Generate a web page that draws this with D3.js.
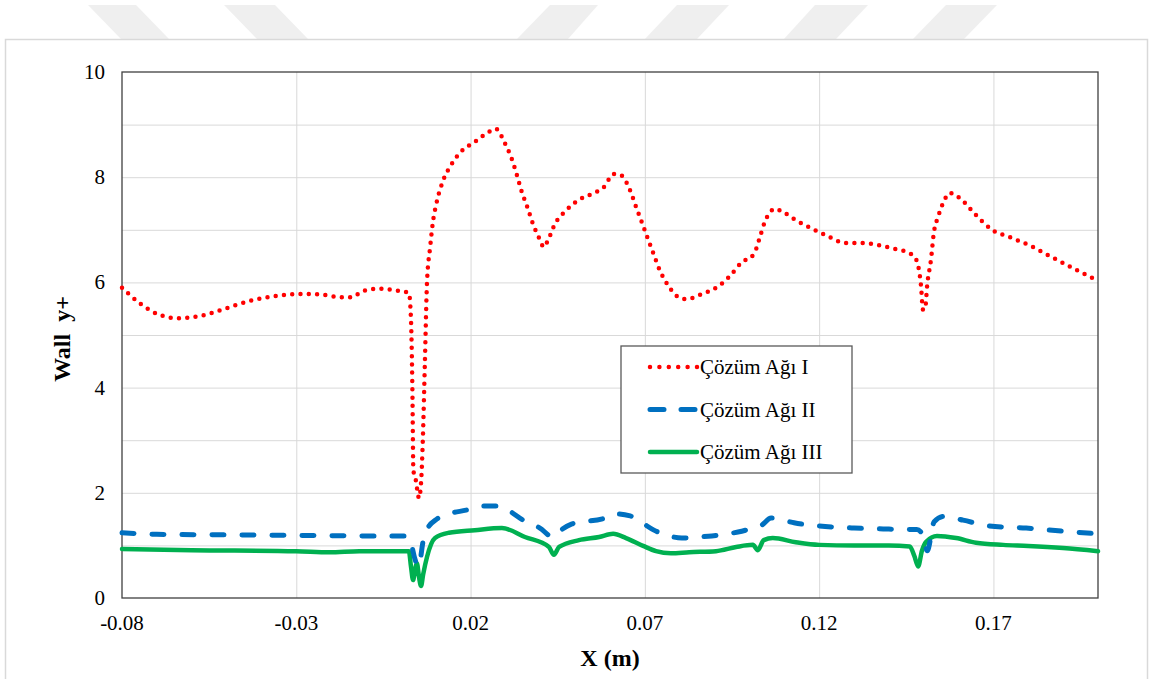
<!DOCTYPE html>
<html lang="tr">

<head>
  <meta charset="UTF-8">
  <title>Wall y+</title>
  <script src="https://d3js.org/d3.v7.min.js"></script>
  <style>
    body {
      margin: 0;
      background: #fff;
    }
  </style>
</head>

<body>
  <svg width="1150" height="679"></svg>

  <script>
    // x positions (m) and Wall y+ values for each mesh
    const xI = [-0.080, -0.0748, -0.0691, -0.0639, -0.0576, -0.0505, -0.0433, -0.0361, -0.0289, -0.0232,
      -0.0175, -0.0140, -0.0111, -0.0060, -0.0017, 0.0023, 0.0029, 0.0033, 0.0036, 0.0040,
      0.0046, 0.0052, 0.0058, 0.0063, 0.0069, 0.0075, 0.0084, 0.0092, 0.0101, 0.0121,
      0.0144, 0.0172, 0.0212, 0.0252, 0.0272, 0.0298, 0.0318, 0.0333, 0.0347, 0.0364,
      0.0379, 0.0399, 0.0410, 0.0422, 0.0442, 0.0473, 0.0511, 0.0554, 0.0582, 0.0611,
      0.0631, 0.0657, 0.0674, 0.0691, 0.0708, 0.0725, 0.0742, 0.0766, 0.0792, 0.0818,
      0.0864, 0.0907, 0.0944, 0.0976, 0.1013, 0.1030, 0.1044, 0.1056, 0.1073, 0.1096,
      0.1136, 0.1180, 0.1225, 0.1274, 0.1323, 0.1369, 0.1415, 0.1463, 0.1478, 0.1492,
      0.1498, 0.1504, 0.1510, 0.1521, 0.1529, 0.1541, 0.1555, 0.1575, 0.1604, 0.1647,
      0.1696, 0.1747, 0.1805, 0.1862, 0.1934, 0.2000];
    const yI = [5.90, 5.60, 5.38, 5.32, 5.36, 5.50, 5.65, 5.74, 5.78, 5.77,
      5.72, 5.72, 5.83, 5.88, 5.85, 5.80, 5.30, 4.00, 2.40, 2.35,
      2.10, 1.90, 2.20, 3.00, 4.50, 6.00, 6.67, 7.15, 7.47, 7.93,
      8.23, 8.48, 8.67, 8.86, 8.92, 8.65, 8.35, 8.04, 7.72, 7.41,
      7.11, 6.81, 6.67, 6.80, 7.11, 7.36, 7.57, 7.70, 7.81, 8.06,
      8.04, 7.76, 7.45, 7.15, 6.84, 6.54, 6.24, 5.95, 5.74, 5.68,
      5.78, 5.91, 6.12, 6.37, 6.54, 6.86, 7.15, 7.30, 7.40, 7.34,
      7.17, 7.02, 6.88, 6.75, 6.75, 6.71, 6.64, 6.54, 6.44, 5.95,
      5.48, 5.50, 5.95, 6.44, 6.94, 7.24, 7.50, 7.70, 7.60, 7.30,
      7.00, 6.86, 6.70, 6.50, 6.25, 6.03];

    const xII = [-0.080, -0.070, -0.050, -0.030, -0.010, 0.0017, 0.0029, 0.0040, 0.0049, 0.0055,
      0.0063, 0.0075, 0.0103, 0.0138, 0.0187, 0.0236, 0.0276, 0.0299, 0.0351, 0.0399,
      0.0436, 0.0448, 0.0491, 0.0586, 0.0612, 0.0658, 0.0692, 0.0726, 0.0760, 0.0806,
      0.0852, 0.0892, 0.0938, 0.0978, 0.1010, 0.1036, 0.1062, 0.1108, 0.1128, 0.1200,
      0.1300, 0.1400, 0.1480, 0.1498, 0.1510, 0.1530, 0.1558, 0.1613, 0.1688, 0.1794,
      0.1900, 0.2000];
    const yII = [1.24, 1.21, 1.20, 1.19, 1.18, 1.18, 1.05, 0.75, 0.60, 0.70,
      1.05, 1.30, 1.50, 1.60, 1.67, 1.75, 1.75, 1.70, 1.48, 1.33,
      1.16, 1.23, 1.41, 1.52, 1.60, 1.56, 1.43, 1.29, 1.20, 1.14,
      1.16, 1.18, 1.22, 1.27, 1.33, 1.39, 1.52, 1.46, 1.43, 1.37,
      1.33, 1.31, 1.30, 1.20, 0.90, 1.45, 1.55, 1.48, 1.37, 1.33,
      1.27, 1.22];

    const xIII = [-0.080, -0.060, -0.030, -0.0205, -0.0119, 0.0000, 0.0023, 0.0029, 0.0035, 0.0041,
      0.0046, 0.0052, 0.0058, 0.0064, 0.0075, 0.0098, 0.0138, 0.0212, 0.0290, 0.0356,
      0.0425, 0.0439, 0.0454, 0.0511, 0.0569, 0.0609, 0.0646, 0.0695, 0.0732, 0.0775,
      0.0827, 0.0904, 0.0962, 0.1010, 0.1024, 0.1041, 0.1067, 0.1133, 0.1200, 0.1300,
      0.1400, 0.1460, 0.1473, 0.1484, 0.1495, 0.1507, 0.1538, 0.1593, 0.1650, 0.1728,
      0.1800, 0.1900, 0.2000];
    const yIII = [0.93, 0.91, 0.89, 0.87, 0.89, 0.89, 0.89, 0.60, 0.34, 0.55,
      0.66, 0.40, 0.23, 0.45, 0.78, 1.14, 1.24, 1.29, 1.33, 1.16,
      0.97, 0.82, 0.97, 1.10, 1.16, 1.22, 1.14, 0.99, 0.89, 0.85,
      0.87, 0.89, 0.97, 1.01, 0.91, 1.10, 1.14, 1.06, 1.01, 1.00,
      1.00, 0.98, 0.80, 0.60, 0.90, 1.07, 1.18, 1.14, 1.05, 1.01,
      0.99, 0.95, 0.89];

    const seriesNames = ['Çözüm Ağı I', 'Çözüm Ağı II', 'Çözüm Ağı III'];
    const xTicks = [-0.08, -0.03, 0.02, 0.07, 0.12, 0.17];
    const yTicks = [0, 2, 4, 6, 8, 10];
    const yGrid = [1, 2, 3, 4, 5, 6, 7, 8, 9];

    const series = [
      { name: seriesNames[0], xs: xI, ys: yI, color: '#ff0000', width: 4.5, dash: '0 8.3', legendDash: '0 9.4' },
      { name: seriesNames[1], xs: xII, ys: yII, color: '#0070c0', width: 5, dash: '12 18', legendDash: '14 17' },
      { name: seriesNames[2], xs: xIII, ys: yIII, color: '#00b050', width: 4.5, dash: null, legendDash: null }
    ];

    const FONT = '"Liberation Serif", "Times New Roman", serif';

    const svg = d3.select('svg');

    // faint page watermark stripes + chart frame
    const stripes = [
      [[88, 5], [136, 5], [169, 39], [121, 39]],
      [[224, 5], [275, 5], [308, 39], [257, 39]],
      [[550, 5], [598, 5], [568, 39], [517, 39]],
      [[677, 5], [729, 5], [697, 39], [645, 39]],
      [[815, 5], [868, 5], [836, 39], [784, 39]],
      [[946, 5], [997, 5], [964, 39], [913, 39]]
    ];
    svg.selectAll('.stripe')
      .data(stripes)
      .enter().append('polygon')
      .attr('class', 'stripe')
      .attr('points', d => d.map(p => p.join(',')).join(' '))
      .attr('fill', '#efefef');

    svg.append('rect')
      .attr('x', 5.5).attr('y', 39.5)
      .attr('width', 1142).attr('height', 700)
      .attr('fill', '#fff')
      .attr('stroke', '#d9d9d9')
      .attr('stroke-width', 1.5);

    const plot = { left: 122, top: 72, right: 1098, bottom: 598 };
    const width = plot.right - plot.left;
    const height = plot.bottom - plot.top;

    const x = d3.scaleLinear().domain([-0.08, 0.20]).range([0, width]);
    const y = d3.scaleLinear().domain([0, 10]).range([height, 0]);

    const chart = svg.append('g')
      .attr('transform', `translate(${plot.left},${plot.top})`);

    // grid
    const gy = chart.append('g')
      .call(d3.axisLeft(y).tickValues(yGrid).tickSize(-width).tickFormat(''));
    const gx = chart.append('g')
      .attr('transform', `translate(0,${height})`)
      .call(d3.axisBottom(x).tickValues(xTicks.slice(1)).tickSize(-height).tickFormat(''));
    [gy, gx].forEach(g => {
      g.select('.domain').remove();
      g.selectAll('line').attr('stroke', '#d9d9d9').attr('stroke-width', 1);
    });

    // plot border
    chart.append('rect')
      .attr('width', width).attr('height', height)
      .attr('fill', 'none')
      .attr('stroke', '#404040')
      .attr('stroke-width', 1.3);

    // tick labels (plain hyphen for negatives, like the original)
    const fmt = d => d3.format('.2f')(d).replace('\u2212', '-');

    chart.selectAll('.ylab')
      .data(yTicks)
      .enter().append('text')
      .attr('x', -17)
      .attr('y', d => y(d) + 7)
      .attr('text-anchor', 'end')
      .style('font-family', FONT)
      .style('font-size', '21px')
      .text(d => d);

    chart.selectAll('.xlab')
      .data(xTicks)
      .enter().append('text')
      .attr('x', d => x(d))
      .attr('y', height + 32)
      .attr('text-anchor', 'middle')
      .style('font-family', FONT)
      .style('font-size', '21px')
      .text(fmt);

    // axis titles
    svg.append('text')
      .attr('text-anchor', 'middle')
      .attr('transform', `translate(70,${plot.top + height / 2 + 4}) rotate(-90)`)
      .style('font-family', FONT)
      .style('font-size', '24px')
      .style('font-weight', 'bold')
      .style('white-space', 'pre')
      .text('Wall  y+');

    svg.append('text')
      .attr('text-anchor', 'middle')
      .attr('x', plot.left + width / 2)
      .attr('y', 666)
      .style('font-family', FONT)
      .style('font-size', '24px')
      .style('font-weight', 'bold')
      .text('X (m)');

    // series lines
    const line = d3.line()
      .x(d => x(d[0]))
      .y(d => y(d[1]))
      .curve(d3.curveMonotoneX);

    // draw III first, I last (I on top)
    series.slice().reverse().forEach(s => {
      const pts = s.xs.map((v, i) => [v, s.ys[i]]);
      chart.append('path')
        .datum(pts)
        .attr('d', line)
        .attr('fill', 'none')
        .attr('stroke', s.color)
        .attr('stroke-width', s.width)
        .attr('stroke-linecap', 'round')
        .attr('stroke-linejoin', 'round')
        .attr('stroke-dasharray', s.dash);
    });

    // legend
    const legend = svg.append('g').attr('transform', 'translate(621,346)');
    legend.append('rect')
      .attr('width', 231).attr('height', 127)
      .attr('fill', '#fff')
      .attr('stroke', '#595959')
      .attr('stroke-width', 1.3);

    series.forEach((s, i) => {
      const ly = 21 + i * 42.5;
      legend.append('line')
        .attr('x1', 29).attr('x2', 76)
        .attr('y1', ly).attr('y2', ly)
        .attr('stroke', s.color)
        .attr('stroke-width', s.width)
        .attr('stroke-linecap', 'round')
        .attr('stroke-dasharray', s.legendDash);
      legend.append('text')
        .attr('x', 79)
        .attr('y', ly + 7)
        .style('font-family', FONT)
        .style('font-size', '21px')
        .text(s.name);
    });
  </script>
</body>

</html>
